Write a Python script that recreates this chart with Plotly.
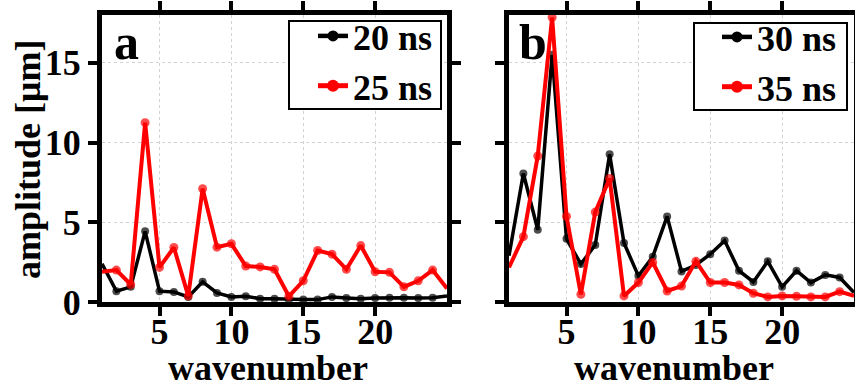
import plotly.graph_objects as go

# ---------------- data ----------------
wavenumber = list(range(1, 26))
amp_20ns = [2.4, 0.68, 0.95, 4.43, 0.68, 0.63, 0.32, 1.27, 0.57, 0.32, 0.36, 0.21, 0.2,
            0.15, 0.15, 0.15, 0.32, 0.25, 0.2, 0.25, 0.27, 0.27, 0.25, 0.27, 0.38]
amp_25ns = [1.9, 2.0, 1.1, 11.25, 2.17, 3.42, 0.38, 7.1, 3.44, 3.65, 2.26, 2.2, 2.05,
            0.36, 1.33, 3.23, 3.0, 2.05, 3.54, 1.9, 1.86, 0.95, 1.33, 2.0, 0.84]
amp_30ns = [2.9, 8.06, 4.53, 15.5, 3.96, 2.38, 3.58, 9.26, 3.7, 1.64, 2.84, 5.37, 1.92,
            2.32, 3.0, 3.85, 1.96, 1.26, 2.55, 0.95, 1.96, 1.22, 1.7, 1.54, 0.6]
amp_35ns = [2.17, 4.1, 9.16, 17.85, 5.37, 0.48, 5.64, 7.75, 0.38, 1.22, 2.48, 0.69, 1.0,
            2.55, 1.22, 1.22, 1.07, 0.55, 0.32, 0.38, 0.36, 0.32, 0.32, 0.65, 0.38]
x_ticks = [5, 10, 15, 20]
y_ticks = [0, 5, 10, 15]
panel_labels = ["a", "b"]
legend_names = ["20 ns", "25 ns", "30 ns", "35 ns"]

W, H = 855, 388
FONT = "Liberation Serif, Times New Roman, serif"
BLACK = "#000000"
RED = "#ff0000"


def px_x(p):
    return p / W


def px_y(p):
    return (H - p) / H


# hide the markers at the clipped end points (they sit under the frame)
def sizes(n, s):
    return [0 if i in (0, n - 1) else s for i in range(n)]


fig = go.Figure()

series = [
    (amp_20ns, legend_names[0], BLACK, 3.5, 8, "x", "y", "legend"),
    (amp_25ns, legend_names[1], RED, 4, 9, "x", "y", "legend"),
    (amp_30ns, legend_names[2], BLACK, 3.5, 8, "x2", "y2", "legend2"),
    (amp_35ns, legend_names[3], RED, 4, 9, "x2", "y2", "legend2"),
]
for vals, name, col, lw, ms, xa, ya, lg in series:
    fig.add_trace(go.Scatter(
        x=wavenumber, y=vals, name=name, mode="lines+markers",
        line=dict(color=col, width=lw),
        marker=dict(color=col, size=sizes(len(vals), ms), line=dict(width=0)),
        xaxis=xa, yaxis=ya, showlegend=False,
    ))
    # legend entry (no data points of its own)
    fig.add_trace(go.Scatter(
        x=[None], y=[None], name=name, mode="lines+markers",
        line=dict(color=col, width=lw + 1),
        marker=dict(color=col, size=ms + 3, line=dict(width=0)),
        xaxis=xa, yaxis=ya, legend=lg, showlegend=True,
    ))

axis_common = dict(
    showline=True, linewidth=5, linecolor=BLACK, mirror="allticks",
    ticks="outside", ticklen=9, tickwidth=4, tickcolor=BLACK,
    showgrid=True, gridcolor="#d2d2d2", griddash="dot", gridwidth=1,
    zeroline=False, automargin=False,
    tickfont=dict(family=FONT, size=36, color=BLACK, weight="bold"),
)

ydom = [px_y(302), px_y(15)]
legend_common = dict(
    xanchor="right", yanchor="top",
    bgcolor="rgba(0,0,0,0)", borderwidth=0,
    font=dict(family=FONT, size=36, color=BLACK, weight="bold"),
    tracegroupgap=0, itemwidth=30,
)
fig.update_layout(
    width=W, height=H,
    margin=dict(l=0, r=0, t=0, b=0, pad=0, autoexpand=False),
    paper_bgcolor="white", plot_bgcolor="white",
    font=dict(family=FONT, size=36, color=BLACK),
    xaxis=dict(domain=[px_x(102), px_x(447)], range=[1, 25], tickvals=x_ticks,
               anchor="y", ticklabelstandoff=-15, **axis_common),
    yaxis=dict(domain=ydom, range=[0, 18], tickvals=y_ticks, anchor="x",
               **axis_common),
    xaxis2=dict(domain=[px_x(509), px_x(854)], range=[1, 25], tickvals=x_ticks,
                anchor="y2", ticklabelstandoff=-15, **axis_common),
    yaxis2=dict(domain=ydom, range=[0, 18], tickvals=y_ticks, anchor="x2",
                showticklabels=False, **axis_common),
    legend=dict(x=px_x(438), y=px_y(6), **legend_common),
    legend2=dict(x=px_x(842), y=px_y(7), **legend_common),
    showlegend=True,
)

# legend frames (white boxes with thin black border, drawn over the data)
for x0, y0, x1, y1 in [(289, 21, 441, 109), (694, 23, 847, 110)]:
    fig.add_shape(type="rect", xref="paper", yref="paper",
                  x0=px_x(x0), x1=px_x(x1), y0=px_y(y1), y1=px_y(y0),
                  fillcolor="white", line=dict(color=BLACK, width=2), layer="above")

annots = [
    dict(text=panel_labels[0], x=px_x(112), y=px_y(42), xanchor="left", yanchor="middle",
         font=dict(family=FONT, size=50, color=BLACK, weight="bold")),
    dict(text=panel_labels[1], x=px_x(517), y=px_y(42), xanchor="left", yanchor="middle",
         font=dict(family=FONT, size=50, color=BLACK, weight="bold")),
    dict(text="wavenumber", x=px_x(268), y=px_y(368), xanchor="center", yanchor="middle",
         font=dict(family=FONT, size=36, color=BLACK, weight="bold")),
    dict(text="wavenumber", x=px_x(674), y=px_y(368), xanchor="center", yanchor="middle",
         font=dict(family=FONT, size=36, color=BLACK, weight="bold")),
    dict(text="amplitude [μm]", x=px_x(28), y=px_y(160), xanchor="center", yanchor="middle",
         textangle=-90, font=dict(family=FONT, size=36, color=BLACK, weight="bold")),
]
for a in annots:
    fig.add_annotation(xref="paper", yref="paper", showarrow=False, **a)

fig.write_html("out.html")
